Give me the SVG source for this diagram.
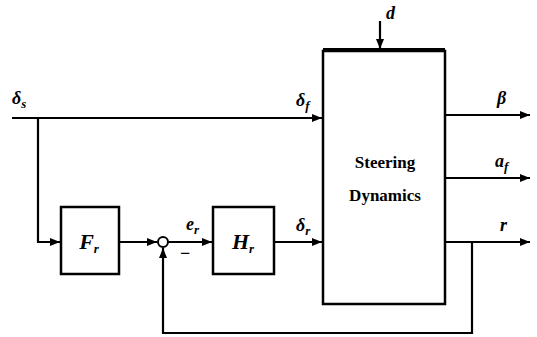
<svg xmlns="http://www.w3.org/2000/svg" width="537" height="337" viewBox="0 0 537 337">
<style>
.ln{fill:none;stroke:#000;stroke-width:2.2}
.bx{fill:#fff;stroke:#000;stroke-width:2.5}
.lb{font-weight:bold;font-style:italic;font-size:18px;fill:#000}
.big{font-size:22px}
.sb{font-size:13px}
.tt{font-weight:bold;font-size:17px;fill:#000;text-anchor:middle}
</style>
<defs>
<marker id="ah" viewBox="0 0 10 8" refX="10" refY="4" markerWidth="10" markerHeight="8" markerUnits="userSpaceOnUse" orient="auto">
<path d="M0,0 L10,4 L0,8 z" fill="#000"/>
</marker>
</defs>
<g id="connectors">
<path class="ln" d="M12,118 H322" marker-end="url(#ah)"/>
<path class="ln" d="M38,118 V242 H60" marker-end="url(#ah)"/>
<path class="ln" d="M120,242 H157" marker-end="url(#ah)"/>
<path class="ln" d="M168,242 H212" marker-end="url(#ah)"/>
<path class="ln" d="M275,242 H322" marker-end="url(#ah)"/>
<path class="ln" d="M380,21 V49" marker-end="url(#ah)"/>
<path class="ln" d="M446,115 H530" marker-end="url(#ah)"/>
<path class="ln" d="M446,178 H530" marker-end="url(#ah)"/>
<path class="ln" d="M446,242 H530" marker-end="url(#ah)"/>
<path class="ln" d="M472,242 V333 H163 V248" marker-end="url(#ah)"/>
</g>
<g font-family="Liberation Serif, serif">
<g id="sum"><circle cx="163" cy="242" r="5" fill="#fff" stroke="#000" stroke-width="2"/></g>
<g id="Fr"><rect class="bx" x="61" y="207" width="58" height="67"/>
<text class="lb big" x="89" y="249" text-anchor="middle">F<tspan class="sb" dy="4">r</tspan></text></g>
<g id="Hr"><rect class="bx" x="213" y="207" width="61" height="67"/>
<text class="lb big" x="243" y="249" text-anchor="middle">H<tspan class="sb" dy="4">r</tspan></text></g>
<g id="steering"><rect class="bx" x="323" y="51" width="122" height="253"/>
<line x1="323" y1="50" x2="445" y2="50" stroke="#000" stroke-width="4"/>
<text class="tt" x="385" y="168">Steering</text>
<text class="tt" x="385" y="201">Dynamics</text></g>
<g id="labels">
<text class="lb" x="12" y="104">δ<tspan class="sb" dy="4">s</tspan></text>
<text class="lb" x="296" y="106">δ<tspan class="sb" dy="4">f</tspan></text>
<text class="lb" x="186" y="230">e<tspan class="sb" dy="4">r</tspan></text>
<text class="lb" x="296" y="231">δ<tspan class="sb" dy="4">r</tspan></text>
<text class="lb" x="180" y="259" style="font-style:normal">−</text>
<text class="lb" x="386" y="19">d</text>
<text class="lb" x="497" y="104">β</text>
<text class="lb" x="495" y="167">a<tspan class="sb" dy="4">f</tspan></text>
<text class="lb" x="500" y="231">r</text>
</g>
</g>
</svg>
